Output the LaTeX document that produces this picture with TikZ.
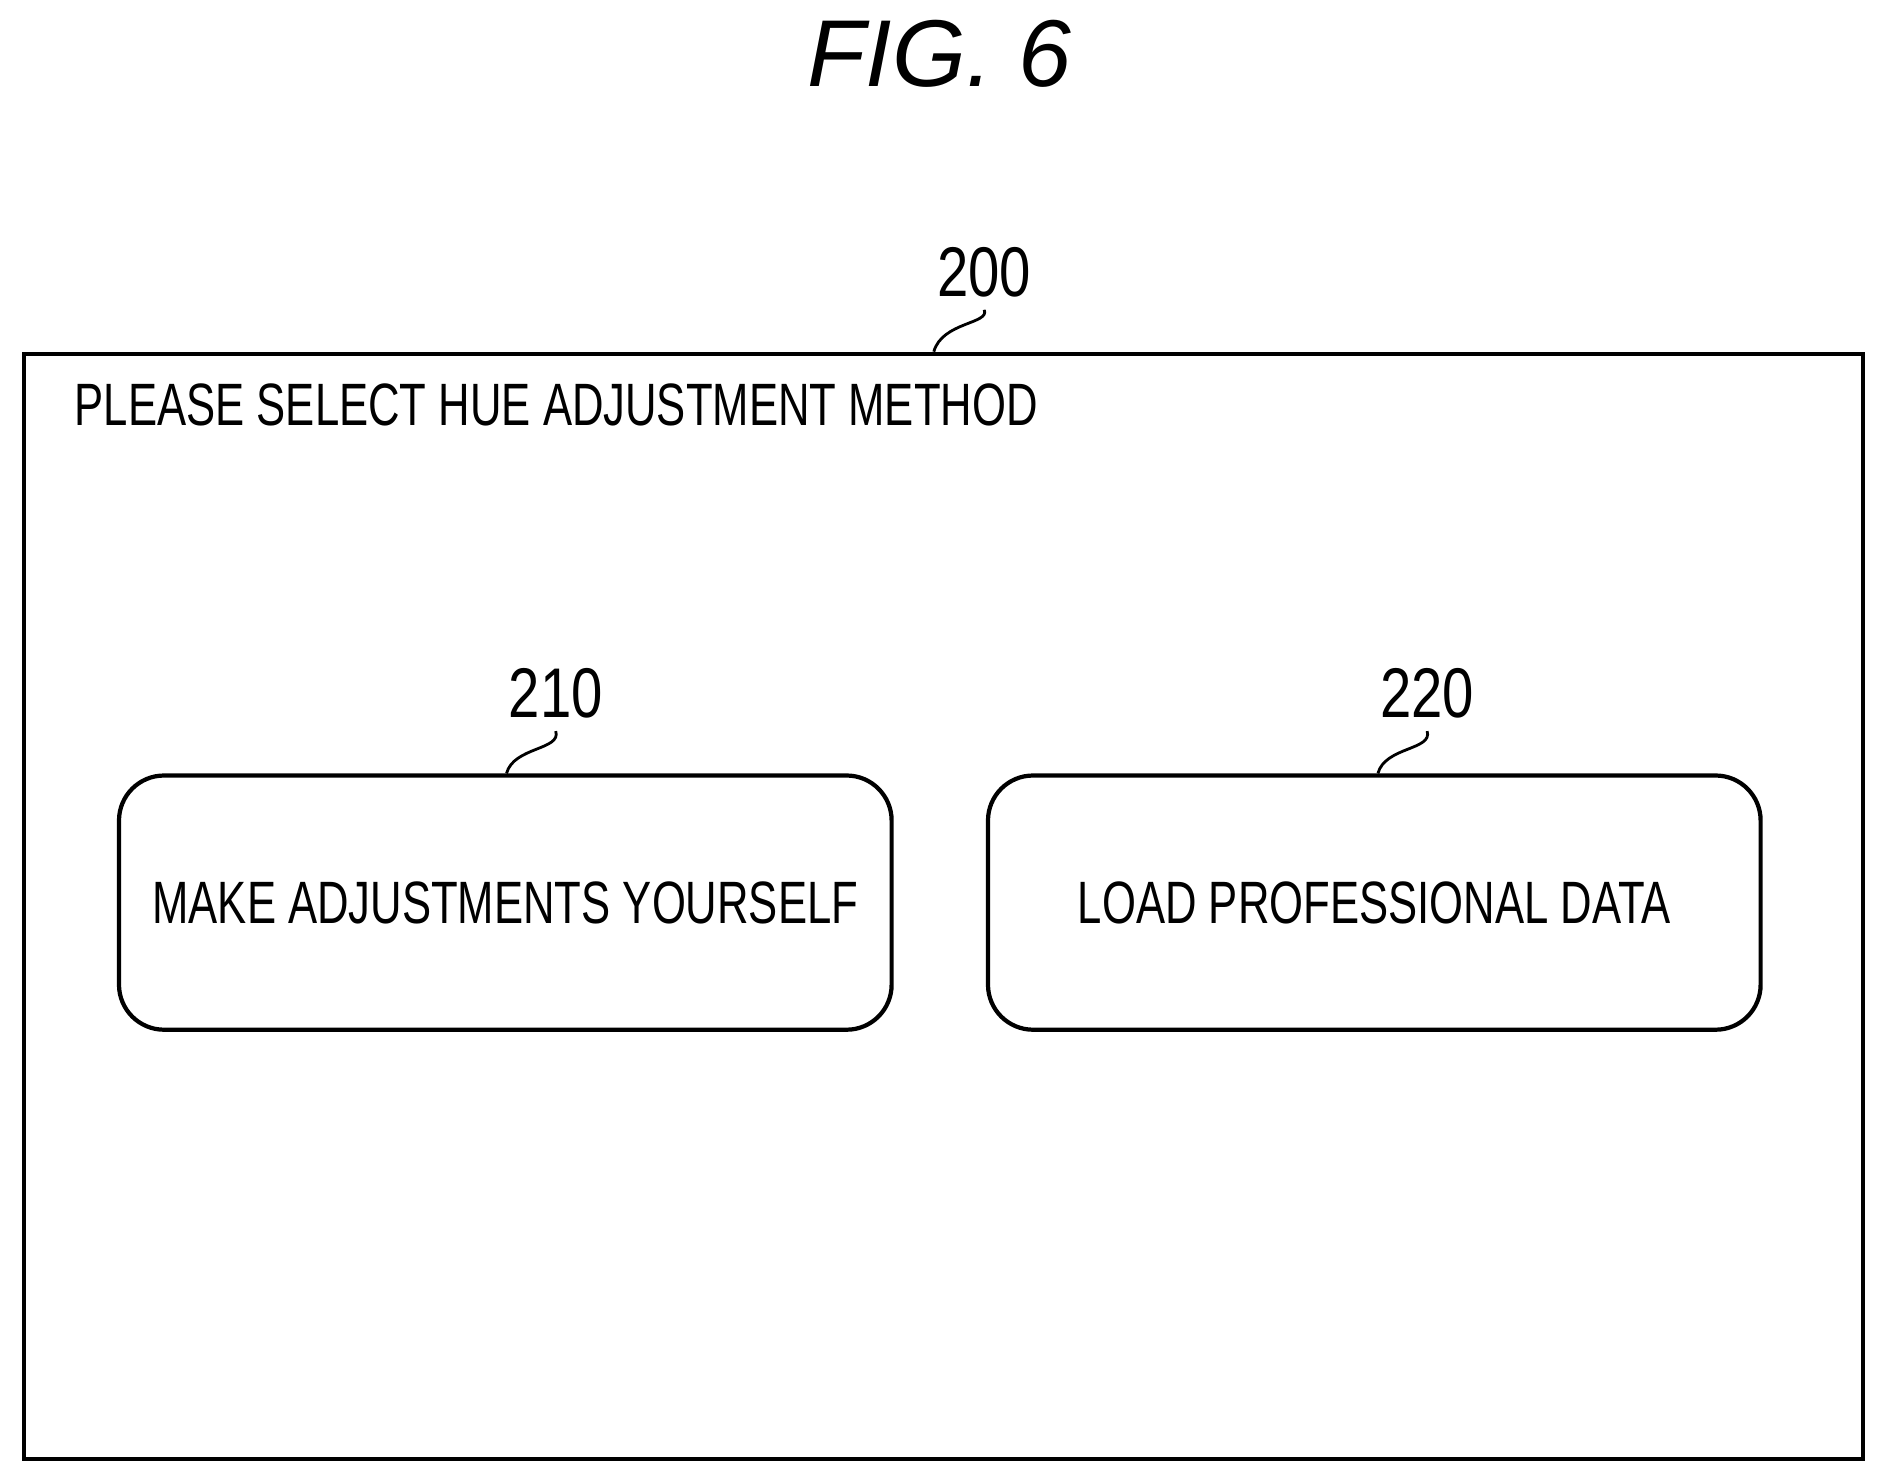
\documentclass[tikz,border=0pt]{standalone}
\usepackage{fontspec}
\setmainfont{Liberation Sans}
\newfontfamily\narrowfont[FakeStretch=0.73]{Liberation Sans}
\newfontfamily\numfont[FakeStretch=0.8]{Liberation Sans}
\usetikzlibrary{positioning}
\tikzset{screen/.style = {draw, line width=1.2pt, minimum width=18.38cm, minimum height=11.04cm},
        choice/.style = {draw, line width=1.2pt, rounded corners=0.45cm, minimum width=7.72cm, minimum height=2.54cm,
                  inner sep=0pt, font=\narrowfont\fontsize{17}{20}\selectfont},
        refnum/.style = {font=\numfont\fontsize{20}{24}\selectfont},
        leader/.style = {line width=0.8pt}
    }
\begin{document}
\begin{tikzpicture}[x=0.012cm, y=-0.012cm]
    \useasboundingbox (0,0) rectangle (1568,1232);
    \node[font=\fontsize{27}{32}\selectfont\itshape] (fig) at (783,45) {FIG. 6};

    \node[screen, anchor=north west] (scr) at (18,293) {};
    \node[refnum] (n200) at (820,227) {200};
    \draw[leader] (n200.south) .. controls (825,270) and (785,268) .. (scr.north -| 778,0);
    \node[anchor=west, font=\narrowfont\fontsize{17}{20}\selectfont] (title) at (52,337) {PLEASE SELECT HUE ADJUSTMENT METHOD};

    \node[choice] (self) at (421,752) {MAKE ADJUSTMENTS YOURSELF};
    \node[choice] (load) at (1145,752) {LOAD PROFESSIONAL DATA};
    \node[refnum] (n210) at (463,578) {210};
    \node[refnum] (n220) at (1189,578) {220};
    \draw[leader] (n210.south) .. controls (468,625) and (428,622) .. (self.north -| 422,0);
    \draw[leader] (n220.south) .. controls (1194,625) and (1154,622) .. (load.north -| 1148,0);
\end{tikzpicture}
\end{document}
